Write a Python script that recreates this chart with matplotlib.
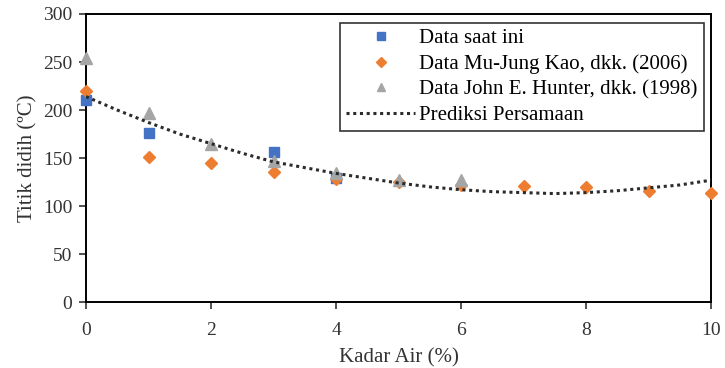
import matplotlib.pyplot as plt

plt.rcParams['font.family'] = ['Liberation Serif', 'DejaVu Serif']

# Data saat ini
x_saat = [0, 1, 3, 4]
y_saat = [210, 176, 156, 129]

# Data Mu-Jung Kao, dkk. (2006)
x_kao = [0, 1, 2, 3, 4, 5, 6, 7, 8, 9, 10]
y_kao = [220, 151, 145, 136, 128, 125, 122, 121, 120, 116, 114]

# Data John E. Hunter, dkk. (1998)
x_hunter = [0, 1, 2, 3, 4, 5, 6]
y_hunter = [254, 197, 165, 147, 134, 127, 127]

# Prediksi Persamaan
x_pred = [0, 0.5, 1, 1.5, 2, 2.5, 3, 3.5, 4, 4.5, 5, 5.5, 6, 6.5, 7, 7.5, 8, 8.5, 9, 9.5, 10]
y_pred = [214, 200, 187, 175, 165, 155, 146, 140, 134, 129, 124, 120, 117, 115, 114, 113, 114, 116, 119, 122, 127]

fig = plt.figure(figsize=(7.25, 3.68), dpi=100)
ax = fig.add_axes([0.1186, 0.179, 0.8624, 0.783])

ax.plot(x_saat, y_saat, linestyle='none', marker='s', markersize=7.5,
        color='#4472C4', label='Data saat ini', zorder=3, clip_on=False)
ax.plot(x_kao, y_kao, linestyle='none', marker='D', markersize=6,
        color='#ED7D31', label='Data Mu-Jung Kao, dkk. (2006)', zorder=3, clip_on=False)
ax.plot(x_hunter, y_hunter, linestyle='none', marker='^', markersize=8,
        color='#A5A5A5', label='Data John E. Hunter, dkk. (1998)', zorder=3, clip_on=False)
ax.plot(x_pred, y_pred, linestyle=(0, (1, 1.2)), linewidth=2.2,
        color='#2b2b2b', label='Prediksi Persamaan', zorder=4)

ax.set_xlim(0, 10)
ax.set_ylim(0, 300)
ax.set_xticks([0, 2, 4, 6, 8, 10])
ax.set_yticks(range(0, 301, 50))
ax.tick_params(direction='out', length=5, width=1.2, labelsize=14, colors='#333333', pad=5)
ax.tick_params(axis='x', pad=9)
for s in ax.spines.values():
    s.set_linewidth(1.4)
    s.set_color('black')

ax.set_xlabel('Kadar Air (%)', fontsize=15, color='#333333', labelpad=7)
ax.set_ylabel('Titik didih (ºC)', fontsize=15, color='#333333', labelpad=4)

leg = ax.legend(loc='upper right', bbox_to_anchor=(0.988, 0.97), fontsize=15,
                frameon=True, fancybox=False, edgecolor='black', markerscale=0.8,
                borderpad=0.3, labelspacing=0.28, handlelength=3.3, handletextpad=0.2,
                borderaxespad=0)
leg.get_frame().set_linewidth(1.2)

fig.savefig('out.png', dpi=100)
